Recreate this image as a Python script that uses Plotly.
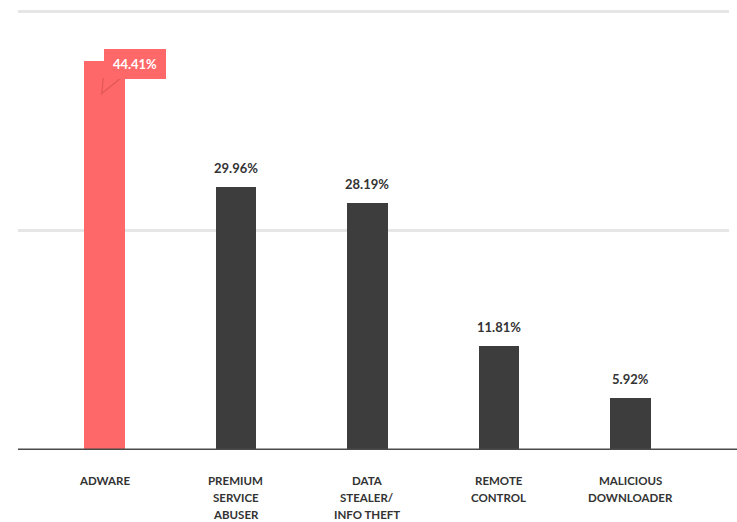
import plotly.graph_objects as go

categories = ["ADWARE", "PREMIUM<br>SERVICE<br>ABUSER", "DATA<br>STEALER/<br>INFO THEFT",
              "REMOTE<br>CONTROL", "MALICIOUS<br>DOWNLOADER"]
values = [44.41, 29.96, 28.19, 11.81, 5.92]
value_labels = ["44.41%", "29.96%", "28.19%", "11.81%", "5.92%"]
grid_vals = [25, 50]

RED = "#ff6868"
DARK = "#3d3d3d"
colors = [RED] + [DARK] * (len(values) - 1)
xpos = list(range(len(values)))

fig = go.Figure()
fig.add_trace(go.Bar(x=xpos, y=values, marker=dict(color=colors, line=dict(width=0)),
                     width=0.308, hoverinfo="skip"))

annotations = []
for i, (v, lab) in enumerate(zip(values, value_labels)):
    if i == 0:
        annotations.append(dict(x=i, y=v, xref="x", yref="y", text="<b>" + lab + "</b>",
                                showarrow=False, xshift=31, yshift=-3, xanchor="center",
                                yanchor="middle", bgcolor=RED, width=58, height=26,
                                borderpad=1, borderwidth=1, bordercolor=RED,
                                font=dict(family="Lato", size=13, color="white")))
    else:
        annotations.append(dict(x=i, y=v, xref="x", yref="y", text="<b>" + lab + "</b>",
                                showarrow=False, yshift=19, xanchor="center", yanchor="middle",
                                font=dict(family="Lato", size=13, color="#333333")))

for i, cat in enumerate(categories):
    for j, line in enumerate(cat.split("<br>")):
        annotations.append(dict(x=i, y=0, xref="x", yref="paper", text=line, showarrow=False,
                                yshift=-30 - 17 * j, xanchor="center", yanchor="middle",
                                font=dict(family="Lato", size=11.5, color="#333333", weight=700)))

shapes = [
    dict(type="line", xref="paper", yref="y", x0=0, x1=1.012, y0=0, y1=0,
         line=dict(color="#4a4a4a", width=3), layer="above"),
    dict(type="path", xref="x", yref="y", xsizemode="pixel", ysizemode="pixel",
         xanchor=0, yanchor=values[0],
         path="M -1,-18 L -2.5,-33 L 16,-18 Z",
         fillcolor=RED, line=dict(color="#e25858", width=1.2), layer="above"),
]

fig.update_layout(
    width=737, height=522,
    margin=dict(l=18, r=8, t=0, b=72),
    paper_bgcolor="white", plot_bgcolor="white",
    showlegend=False,
    bargap=0,
    xaxis=dict(range=[-0.656, 4.751], showticklabels=False, showgrid=False,
               zeroline=False, showline=False, ticks=""),
    yaxis=dict(range=[0, 51.31], tickvals=grid_vals, showticklabels=False,
               showgrid=True, gridcolor="#e6e6e6", gridwidth=3,
               zeroline=False, showline=False, ticks=""),
    annotations=annotations,
    shapes=shapes,
)

fig.write_html("out.html")
